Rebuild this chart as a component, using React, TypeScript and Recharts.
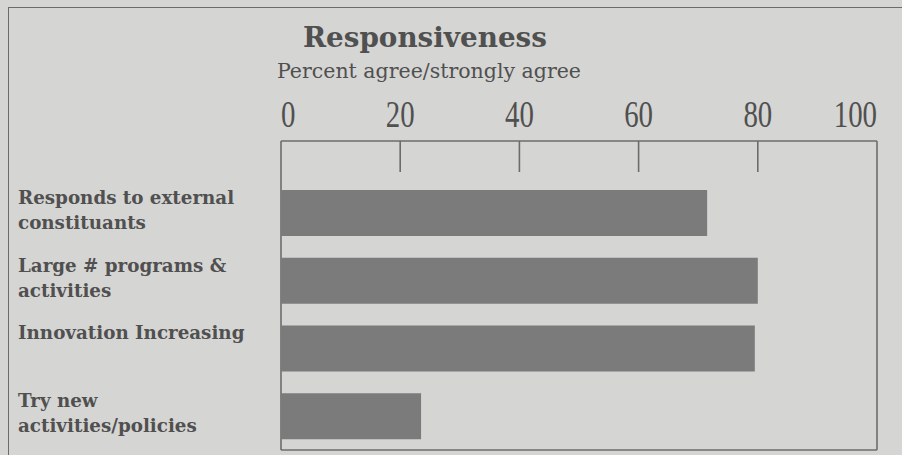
import React from "react";
import { BarChart, Bar, XAxis, YAxis, CartesianGrid } from "recharts";

const chartTitle = "Responsiveness";
const chartSubtitle = "Percent agree/strongly agree";
const categoryLines: string[][] = [
  ["Responds to external", "constituants"],
  ["Large # programs &", "activities"],
  ["Innovation Increasing"],
  ["Try new", "activities/policies"],
];
const categories = categoryLines.map((l) => l.join(" "));
const agreeValues = [71.5, 80, 79.5, 23.5];
const xTicks = [0, 20, 40, 60, 80, 100];
const markedTicks = [20, 40, 60, 80];

const data = categories.map((name, i) => ({ name, value: agreeValues[i] }));

const BG = "#d5d5d3";
const INK = "#505050";
const LINE = "#6c6c6c";
const BAR = "#7b7b7b";

const TOP_MARGIN = 12;

const XTick = (props: any) => {
  const { x, y, payload } = props;
  const v = payload.value;
  const anchor = v === xTicks[0] ? "start" : v === xTicks[xTicks.length - 1] ? "end" : "middle";
  const axisY = y + TOP_MARGIN;
  return (
    <g>
      <text
        transform={`translate(${x},${axisY - 14}) scale(0.78,1)`}
        x={0}
        y={0}
        textAnchor={anchor}
        fontFamily="Liberation Serif"
        fontSize={37}
        fill={INK}
      >
        {v}
      </text>
      {markedTicks.includes(v) && (
        <line x1={x} x2={x} y1={axisY} y2={axisY + 31} stroke={LINE} strokeWidth={1.6} />
      )}
    </g>
  );
};

const YTick = (props: any) => {
  const { y, payload } = props;
  const idx = categories.indexOf(payload.value);
  const lines = idx >= 0 ? categoryLines[idx] : [String(payload.value)];
  return (
    <text
      x={18}
      y={y - 9}
      textAnchor="start"
      fontFamily="DejaVu Serif"
      fontWeight="bold"
      fontSize={18.3}
      fill={INK}
    >
      {lines.map((l, i) => (
        <tspan key={i} x={18} dy={i === 0 ? 0 : 25}>
          {l}
        </tspan>
      ))}
    </text>
  );
};

export default function App() {
  return (
    <div
      style={{
        position: "fixed",
        left: 0,
        top: 0,
        width: 902,
        height: 455,
        background: BG,
        overflow: "hidden",
      }}
    >
      <div
        style={{
          position: "absolute",
          left: 8,
          top: 7,
          width: 900,
          height: 460,
          borderTop: `1.5px solid ${LINE}`,
          borderLeft: `1.5px solid ${LINE}`,
        }}
      />
      <svg width={902} height={100} style={{ position: "absolute", left: 0, top: 0 }}>
        <text x={303} y={47} fontFamily="DejaVu Serif" fontWeight="bold" fontSize={27.8} fill={INK}>
          {chartTitle}
        </text>
        <text x={277} y={78} fontFamily="DejaVu Serif" fontSize={20.5} fill={INK}>
          {chartSubtitle}
        </text>
      </svg>
      <div style={{ position: "absolute", left: 0, top: 0 }}>
        <BarChart
          width={902}
          height={455}
          data={data}
          layout="vertical"
          margin={{ top: 101, right: 25, bottom: 5, left: 0 }}
          barSize={46}
        >
          <CartesianGrid
            stroke={LINE}
            strokeWidth={1.6}
            horizontalCoordinatesGenerator={({ offset }: any) => [offset.top, offset.top + offset.height]}
            verticalCoordinatesGenerator={({ offset }: any) => [offset.left, offset.left + offset.width]}
          />
          <XAxis
            type="number"
            orientation="top"
            domain={[0, 100]}
            ticks={xTicks}
            height={40}
            tickSize={0}
            tickMargin={TOP_MARGIN}
            tickLine={false}
            axisLine={false}
            tick={<XTick />}
            interval={0}
          />
          <YAxis
            type="category"
            dataKey="name"
            width={281}
            padding={{ top: 38, bottom: 0 }}
            tickLine={false}
            tick={<YTick />}
            interval={0}
            axisLine={false}
          />
          <Bar dataKey="value" fill={BAR} isAnimationActive={false} />
        </BarChart>
      </div>
    </div>
  );
}
